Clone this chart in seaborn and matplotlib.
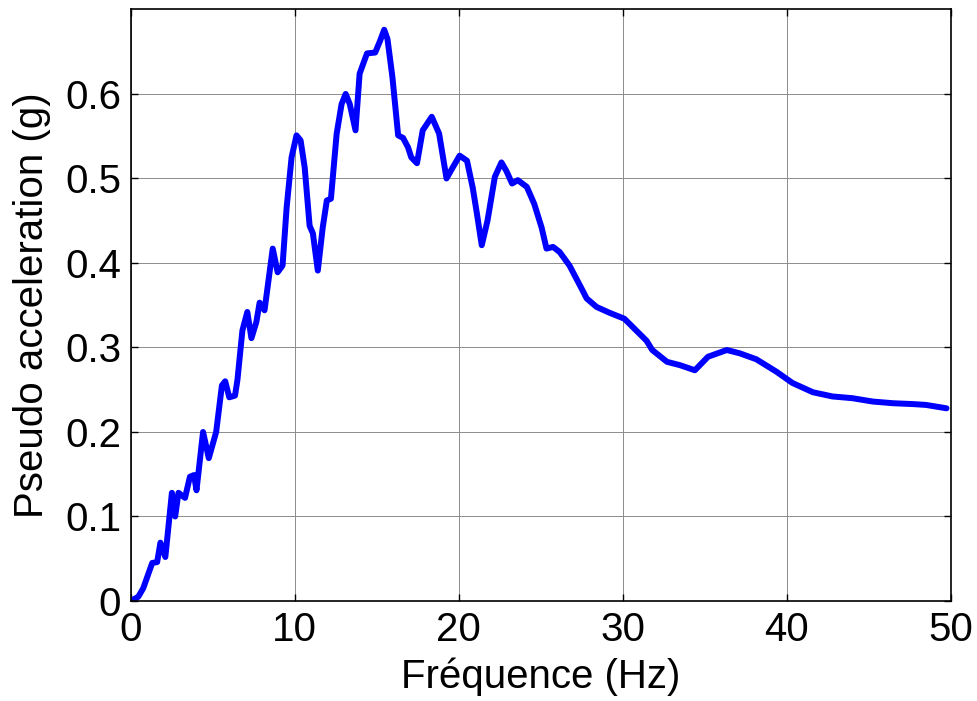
import matplotlib
matplotlib.use("Agg")
import matplotlib.pyplot as plt
import seaborn as sns
import numpy as np

freq = [0.0, 0.45, 0.75, 1.3, 1.6, 1.8, 2.1, 2.5, 2.7, 2.9, 3.3, 3.6, 3.85, 4.0, 4.4, 4.75, 5.2,
        5.55, 5.75, 6.0, 6.35, 6.5, 6.8, 7.1, 7.35, 7.65, 7.85, 8.15, 8.65, 8.95, 9.25, 9.5, 9.8,
        10.1, 10.35, 10.6, 10.9, 11.1, 11.4, 11.7, 11.95, 12.2, 12.55, 12.85, 13.1, 13.35, 13.7,
        13.95, 14.4, 14.9, 15.2, 15.45, 15.65, 15.95, 16.3, 16.6, 16.9, 17.1, 17.45, 17.8, 18.35,
        18.8, 19.25, 19.6, 20.05, 20.5, 20.85, 21.1, 21.4, 21.75, 22.2, 22.6, 22.9, 23.25, 23.6,
        24.15, 24.6, 25.05, 25.35, 25.75, 26.15, 26.75, 27.4, 27.8, 28.4, 29.2, 30.1, 31.45, 31.8,
        32.7, 33.5, 34.4, 35.2, 36.35, 37.15, 38.15, 39.4, 40.35, 41.6, 42.8, 44.0, 45.25, 46.5,
        47.7, 48.5, 49.75]
accel = [0.0, 0.005, 0.015, 0.045, 0.046, 0.069, 0.052, 0.128, 0.1, 0.128, 0.122, 0.147, 0.149,
         0.131, 0.2, 0.169, 0.2, 0.255, 0.26, 0.241, 0.243, 0.262, 0.32, 0.342, 0.311, 0.33, 0.353,
         0.344, 0.417, 0.389, 0.397, 0.466, 0.525, 0.551, 0.545, 0.513, 0.444, 0.435, 0.391, 0.442,
         0.474, 0.476, 0.553, 0.588, 0.6, 0.588, 0.557, 0.624, 0.648, 0.649, 0.663, 0.676, 0.665,
         0.62, 0.551, 0.548, 0.537, 0.525, 0.518, 0.557, 0.573, 0.553, 0.5, 0.512, 0.527, 0.521,
         0.489, 0.459, 0.421, 0.45, 0.502, 0.519, 0.509, 0.494, 0.498, 0.49, 0.47, 0.442, 0.417,
         0.419, 0.413, 0.397, 0.373, 0.358, 0.348, 0.341, 0.334, 0.308, 0.297, 0.283, 0.279, 0.273,
         0.289, 0.297, 0.293, 0.286, 0.271, 0.258, 0.247, 0.242, 0.24, 0.236, 0.234, 0.233, 0.232,
         0.228]

xticks = [0, 10, 20, 30, 40, 50]
yticks = [0, 0.1, 0.2, 0.3, 0.4, 0.5, 0.6]
ytick_labels = ["0", "0.1", "0.2", "0.3", "0.4", "0.5", "0.6"]

sns.set_style("white")
plt.rcParams['font.family'] = ['Liberation Sans', 'DejaVu Sans']

fig = plt.figure(figsize=(9.77, 7.01), dpi=100)
ax = fig.add_axes([0.134, 0.1427, 0.839, 0.8438])

sns.lineplot(x=freq, y=accel, ax=ax, color=(0, 0, 1), linewidth=4.3)

ax.set_xlim(0, 50)
ax.set_ylim(0, 0.7)
ax.set_xticks(xticks)
ax.set_xticklabels([str(t) for t in xticks])
ax.set_yticks(yticks)
ax.set_yticklabels(ytick_labels)
ax.grid(True, color='#8c8c8c', linewidth=0.7)
ax.set_axisbelow(True)
ax.tick_params(direction='in', length=5, width=1, labelsize=29, colors='black',
               top=True, right=True, bottom=True, left=True, pad=7)
for s in ax.spines.values():
    s.set_color('black')
    s.set_linewidth(1.2)
ax.set_xlabel("Fréquence (Hz)", fontsize=29, labelpad=6, color='black')
ax.set_ylabel("Pseudo acceleration (g)", fontsize=29, labelpad=10, color='black')

fig.savefig("out.png", dpi=100)
